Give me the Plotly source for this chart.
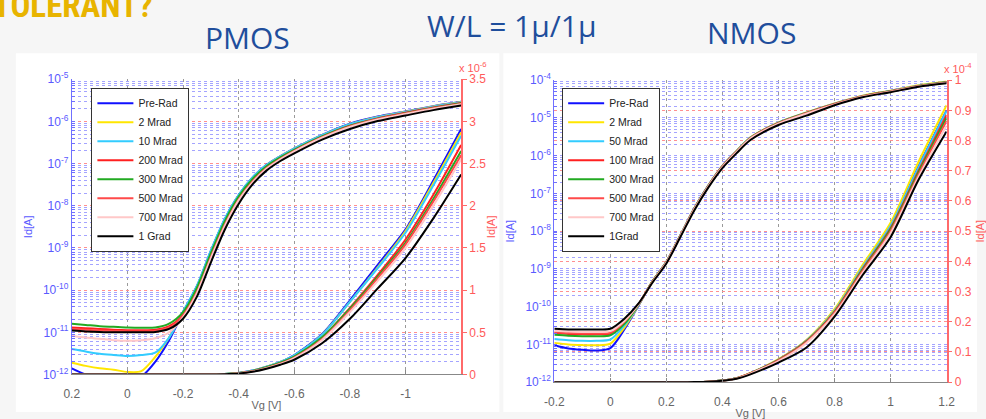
import plotly.graph_objects as go

# ---------------- DATA ----------------
series_names_p = ["Pre-Rad", "2 Mrad", "10 Mrad", "200 Mrad", "300 Mrad", "500 Mrad", "700 Mrad", "1 Grad"]
series_names_n = ["Pre-Rad", "2 Mrad", "50 Mrad", "100 Mrad", "300 Mrad", "500 Mrad", "700 Mrad", "1Grad"]
series_colors = ["#1010ff", "#ffe600", "#33ccff", "#ff2020", "#22aa22", "#ff4a4a", "#ffc8c8", "#000000"]

pmos_vg = [0.2, 0.15, 0.1, 0.05, 0.0, -0.05, -0.1, -0.15, -0.2, -0.25, -0.3, -0.35, -0.4,
           -0.45, -0.5, -0.55, -0.6, -0.7, -0.8, -0.9, -1.0, -1.1, -1.2]
pmos_prerad = [1.4e-12, 1.0e-12, 8.5e-13, 8e-13, 8e-13, 9e-13, 2.0e-12, 6.5e-12, 3.0e-11, 1.25e-10, 8.5e-10,
               4.8e-9, 1.8e-8, 4.7e-8, 9.3e-8, 1.5e-7, 2.3e-7, 4.8e-7, 8.8e-7, 1.3e-6, 1.72e-6, 2.3e-6, 2.91e-6]
pmos_2mrad = [1.9e-12, 1.6e-12, 1.4e-12, 1.3e-12, 1.15e-12, 1.2e-12, 2.6e-12, 7.5e-12, 2.9e-11, 1.2e-10, 8.2e-10,
              4.6e-9, 1.75e-8, 4.6e-8, 9.1e-8, 1.48e-7, 2.25e-7, 4.7e-7, 8.6e-7, 1.27e-6, 1.7e-6, 2.27e-6, 2.87e-6]
pmos_10mrad = [4e-12, 3.5e-12, 3.1e-12, 2.9e-12, 2.75e-12, 2.9e-12, 3.3e-12, 7.5e-12, 3.1e-11, 1.25e-10, 8.6e-10,
               4.9e-9, 1.8e-8, 4.7e-8, 9.2e-8, 1.49e-7, 2.27e-7, 4.7e-7, 8.6e-7, 1.26e-6, 1.68e-6, 2.24e-6, 2.83e-6]
pmos_200mrad = [1.3e-11, 1.25e-11, 1.2e-11, 1.15e-11, 1.12e-11, 1.12e-11, 1.15e-11, 1.4e-11, 2.6e-11, 1.0e-10, 6.5e-10,
                3.8e-9, 1.5e-8, 4.0e-8, 8.2e-8, 1.36e-7, 2.08e-7, 4.35e-7, 7.9e-7, 1.18e-6, 1.6e-6, 2.13e-6, 2.72e-6]
pmos_300mrad = [1.6e-11, 1.5e-11, 1.4e-11, 1.35e-11, 1.3e-11, 1.28e-11, 1.3e-11, 1.6e-11, 3.0e-11, 1.15e-10, 7.5e-10,
                4.3e-9, 1.65e-8, 4.3e-8, 8.6e-8, 1.4e-7, 2.12e-7, 4.4e-7, 7.8e-7, 1.16e-6, 1.56e-6, 2.08e-6, 2.65e-6]
pmos_500mrad = [1.2e-11, 1.15e-11, 1.1e-11, 1.08e-11, 1.05e-11, 1.05e-11, 1.08e-11, 1.3e-11, 2.5e-11, 9e-11, 6e-10,
                3.5e-9, 1.4e-8, 3.8e-8, 7.8e-8, 1.3e-7, 2.0e-7, 4.2e-7, 7.6e-7, 1.14e-6, 1.54e-6, 2.05e-6, 2.6e-6]
pmos_700mrad = [8.3e-12, 7.5e-12, 7e-12, 6.5e-12, 6.3e-12, 6.5e-12, 7.2e-12, 1.0e-11, 2.3e-11, 8.5e-11, 5.6e-10,
                3.3e-9, 1.35e-8, 3.6e-8, 7.5e-8, 1.26e-7, 1.95e-7, 4.1e-7, 7.4e-7, 1.11e-6, 1.5e-6, 2.0e-6, 2.55e-6]
pmos_1grad = [1.1e-11, 1.05e-11, 1.02e-11, 1.0e-11, 1.0e-11, 1.0e-11, 1.02e-11, 1.2e-11, 2.1e-11, 7e-11, 4.5e-10,
              2.7e-9, 1.1e-8, 3.2e-8, 6.8e-8, 1.15e-7, 1.75e-7, 3.7e-7, 6.6e-7, 1.02e-6, 1.38e-6, 1.85e-6, 2.37e-6]

nmos_vg = [-0.2, -0.15, -0.1, -0.05, 0.0, 0.05, 0.1, 0.15, 0.2, 0.25, 0.3, 0.35, 0.4, 0.45, 0.5,
           0.6, 0.7, 0.8, 0.9, 1.0, 1.1, 1.2]
nmos_prerad = [9.5e-12, 7.8e-12, 7.2e-12, 6.9e-12, 8e-12, 2.5e-11, 1.05e-10, 4.6e-10, 1.55e-9, 7.8e-9, 4.1e-8,
               1.65e-7, 5.4e-7, 1.32e-6, 3.0e-6, 7.5e-6, 1.38e-5, 2.38e-5, 3.82e-5, 5.2e-5, 7.15e-5, 9.0e-5]
nmos_2mrad = [1.1e-11, 1.0e-11, 9.6e-12, 9.5e-12, 1.05e-11, 2.8e-11, 1.07e-10, 4.6e-10, 1.55e-9, 7.8e-9, 4.1e-8,
              1.65e-7, 5.4e-7, 1.33e-6, 3.05e-6, 7.6e-6, 1.4e-5, 2.42e-5, 3.88e-5, 5.28e-5, 7.3e-5, 9.17e-5]
nmos_50mrad = [1.4e-11, 1.3e-11, 1.25e-11, 1.25e-11, 1.35e-11, 3.2e-11, 1.1e-10, 4.6e-10, 1.55e-9, 7.7e-9, 4.05e-8,
               1.63e-7, 5.3e-7, 1.3e-6, 3.0e-6, 7.5e-6, 1.38e-5, 2.37e-5, 3.8e-5, 5.18e-5, 7.12e-5, 8.98e-5]
nmos_100mrad = [2.0e-11, 1.9e-11, 1.85e-11, 1.85e-11, 1.95e-11, 3.8e-11, 1.15e-10, 4.6e-10, 1.52e-9, 7.6e-9, 4.0e-8,
                1.6e-7, 5.2e-7, 1.28e-6, 2.95e-6, 7.4e-6, 1.36e-5, 2.34e-5, 3.75e-5, 5.1e-5, 7.0e-5, 8.85e-5]
nmos_300mrad = [1.8e-11, 1.7e-11, 1.65e-11, 1.65e-11, 1.75e-11, 3.5e-11, 1.12e-10, 4.6e-10, 1.52e-9, 7.6e-9, 4.0e-8,
                1.6e-7, 5.2e-7, 1.28e-6, 2.93e-6, 7.3e-6, 1.35e-5, 2.32e-5, 3.72e-5, 5.06e-5, 6.95e-5, 8.75e-5]
nmos_500mrad = [2.1e-11, 2.0e-11, 1.95e-11, 1.95e-11, 2.05e-11, 4.0e-11, 1.15e-10, 4.5e-10, 1.5e-9, 7.5e-9, 3.9e-8,
                1.57e-7, 5.1e-7, 1.26e-6, 2.9e-6, 7.2e-6, 1.33e-5, 2.3e-5, 3.68e-5, 5.0e-5, 6.88e-5, 8.65e-5]
nmos_700mrad = [2.3e-11, 2.2e-11, 2.15e-11, 2.15e-11, 2.25e-11, 4.2e-11, 1.15e-10, 4.4e-10, 1.48e-9, 7.4e-9, 3.85e-8,
                1.55e-7, 5.0e-7, 1.24e-6, 2.85e-6, 7.0e-6, 1.3e-5, 2.25e-5, 3.62e-5, 4.93e-5, 6.8e-5, 8.5e-5]
nmos_1grad = [2.6e-11, 2.5e-11, 2.5e-11, 2.5e-11, 2.6e-11, 4.8e-11, 1.2e-10, 4.3e-10, 1.4e-9, 7.0e-9, 3.6e-8,
              1.45e-7, 4.7e-7, 1.15e-6, 2.6e-6, 6.5e-6, 1.15e-5, 2.17e-5, 3.54e-5, 4.8e-5, 6.7e-5, 8.3e-5]

pmos_series = [pmos_prerad, pmos_2mrad, pmos_10mrad, pmos_200mrad, pmos_300mrad, pmos_500mrad, pmos_700mrad, pmos_1grad]
nmos_series = [nmos_prerad, nmos_2mrad, nmos_50mrad, nmos_100mrad, nmos_300mrad, nmos_500mrad, nmos_700mrad, nmos_1grad]

pmos_xticks = [0.2, 0.0, -0.2, -0.4, -0.6, -0.8, -1.0]
pmos_xlabels = ["0.2", "0", "-0.2", "-0.4", "-0.6", "-0.8", "-1"]
nmos_xticks = [-0.2, 0.0, 0.2, 0.4, 0.6, 0.8, 1.0, 1.2]
nmos_xlabels = ["-0.2", "0", "0.2", "0.4", "0.6", "0.8", "1", "1.2"]
pmos_decades = list(range(-12, -4))   # 1e-12 .. 1e-5
nmos_decades = list(range(-12, -3))   # 1e-12 .. 1e-4
pmos_lin_ticks = [0, 0.5e-6, 1e-6, 1.5e-6, 2e-6, 2.5e-6, 3e-6, 3.5e-6]
pmos_lin_labels = ["0", "0.5", "1", "1.5", "2", "2.5", "3", "3.5"]
nmos_lin_ticks = [0, 1e-5, 2e-5, 3e-5, 4e-5, 5e-5, 6e-5, 7e-5, 8e-5, 9e-5, 1e-4]
nmos_lin_labels = ["0", "0.1", "0.2", "0.3", "0.4", "0.5", "0.6", "0.7", "0.8", "0.9", "1"]

# ---------------- LAYOUT HELPERS ----------------
W, H = 986, 419
def fx(p): return p / W
def fy(p): return 1 - p / H

BLUE_LBL = "#5a5aff"
RED_LBL = "#ff5a5a"
GREY_LBL = "#666666"
FONT = "Liberation Sans, Arial, sans-serif"
SLIDE_FONT = "Open Sans, sans-serif"
SLIDE_BLUE = "#1f4e9c"

def log_ticks(decades):
    vals, txt = [], []
    for n in decades:
        for k in range(1, 10):
            if n == decades[-1] and k > 1:
                break
            vals.append(k * 10.0 ** n)
            txt.append("10<sup>%d</sup>" % n if k == 1 else "")
    return vals, txt

fig = go.Figure()

for i in range(8):
    fig.add_trace(go.Scatter(x=pmos_vg, y=pmos_series[i], xaxis="x", yaxis="y", mode="lines",
                             line=dict(color=series_colors[i], width=2, shape="spline", smoothing=0.8),
                             name=series_names_p[i], legend="legend", showlegend=True))
    fig.add_trace(go.Scatter(x=pmos_vg, y=pmos_series[i], xaxis="x", yaxis="y2", mode="lines",
                             line=dict(color=series_colors[i], width=2, shape="spline", smoothing=0.8),
                             name=series_names_p[i], showlegend=False))
for i in range(8):
    fig.add_trace(go.Scatter(x=nmos_vg, y=nmos_series[i], xaxis="x2", yaxis="y3", mode="lines",
                             line=dict(color=series_colors[i], width=2, shape="spline", smoothing=0.8),
                             name=series_names_n[i], legend="legend2", showlegend=True))
    fig.add_trace(go.Scatter(x=nmos_vg, y=nmos_series[i], xaxis="x2", yaxis="y4", mode="lines",
                             line=dict(color=series_colors[i], width=2, shape="spline", smoothing=0.8),
                             name=series_names_n[i], showlegend=False))

pv, pt = log_ticks(pmos_decades)
nv, nt = log_ticks(nmos_decades)

xcommon = dict(showgrid=True, gridcolor="#9a9a9a", griddash="dot", gridwidth=1, zeroline=False,
               showline=True, linecolor="#888888", linewidth=1, ticks="inside", ticklen=4, tickcolor="#888888",
               tickfont=dict(family=FONT, size=12, color=GREY_LBL), ticklabelstandoff=8, mirror=False)
ylog_common = dict(type="log", showgrid=True, gridcolor="#a4a4ff", griddash="dot", gridwidth=1, zeroline=False,
                   showline=True, linecolor="#7070ff", linewidth=1, ticks="inside", ticklen=3, tickcolor="#7070ff",
                   tickfont=dict(family=FONT, size=12, color=BLUE_LBL), tickmode="array")
ylin_common = dict(showgrid=True, gridcolor="#ff9090", griddash="dot", gridwidth=1, zeroline=False,
                   showline=True, linecolor="#ff6a6a", linewidth=1.5, ticks="outside", ticklen=4, tickcolor="#ff6a6a",
                   tickfont=dict(family=FONT, size=12, color=RED_LBL), tickmode="array", side="right")

legend_common = dict(xanchor="left", yanchor="top", bgcolor="white",
                     bordercolor="#333333", borderwidth=1, font=dict(family=FONT, size=10.5, color="#222222"),
                     tracegroupgap=0, itemwidth=36)

fig.update_layout(
    width=W, height=H, margin=dict(l=0, r=0, t=0, b=0),
    paper_bgcolor="#f6f6f6", plot_bgcolor="white",
    xaxis=dict(xcommon, domain=[fx(63), fx(460)], range=[0.2, -1.2], anchor="y",
               tickmode="array", tickvals=pmos_xticks, ticktext=pmos_xlabels,
               title=dict(text="Vg [V]", font=dict(family=FONT, size=11, color=GREY_LBL), standoff=1)),
    yaxis=dict(ylog_common, domain=[fy(380), fy(73)], range=[-12, -5], anchor="x",
               tickvals=pv, ticktext=pt,
               title=dict(text="Id[A]", font=dict(family=FONT, size=11, color=BLUE_LBL), standoff=8)),
    yaxis2=dict(ylin_common, overlaying="y", anchor="x", range=[0, 3.5e-6],
                tickvals=pmos_lin_ticks, ticktext=pmos_lin_labels,
                title=dict(text="Id[A]", font=dict(family=FONT, size=11, color=RED_LBL), standoff=2)),
    xaxis2=dict(xcommon, domain=[fx(555), fx(955)], range=[-0.2, 1.2], anchor="y3",
                tickmode="array", tickvals=nmos_xticks, ticktext=nmos_xlabels,
                title=dict(text="Vg [V]", font=dict(family=FONT, size=11, color=GREY_LBL), standoff=1)),
    yaxis3=dict(ylog_common, domain=[fy(388), fy(74)], range=[-12, -4], anchor="x2",
                tickvals=nv, ticktext=nt,
                title=dict(text="Id[A]", font=dict(family=FONT, size=11, color=BLUE_LBL), standoff=8)),
    yaxis4=dict(ylin_common, overlaying="y3", anchor="x2", range=[0, 1e-4],
                tickvals=nmos_lin_ticks, ticktext=nmos_lin_labels,
                title=dict(text="Id[A]", font=dict(family=FONT, size=11, color=RED_LBL), standoff=6)),
    legend=dict(legend_common, x=fx(83), y=fy(82)),
    legend2=dict(legend_common, x=fx(563), y=fy(82)),
    shapes=[
        dict(type="rect", xref="paper", yref="paper", x0=fx(6), x1=fx(499), y0=0, y1=fy(46),
             fillcolor="white", line=dict(width=0), layer="below"),
        dict(type="rect", xref="paper", yref="paper", x0=fx(503), x1=1, y0=0, y1=fy(46),
             fillcolor="white", line=dict(width=0), layer="below"),
    ],
    annotations=[
        dict(text="TOLERANT?", x=fx(-19), y=fy(19), xref="paper", yref="paper", xanchor="left", yanchor="bottom",
             showarrow=False, font=dict(family="Liberation Sans Narrow, Roboto Condensed, sans-serif",
                                        size=33, color="#e8b400", weight="bold")),
        dict(text="PMOS", x=fx(242), y=fy(30), xref="paper", yref="paper", xanchor="center", yanchor="middle",
             showarrow=False, font=dict(family=SLIDE_FONT, size=30, color=SLIDE_BLUE)),
        dict(text="W/L = 1µ/1µ", x=fx(512), y=fy(17), xref="paper", yref="paper", xanchor="center", yanchor="middle",
             showarrow=False, font=dict(family=SLIDE_FONT, size=30, color=SLIDE_BLUE)),
        dict(text="NMOS", x=fx(756), y=fy(24), xref="paper", yref="paper", xanchor="center", yanchor="middle",
             showarrow=False, font=dict(family=SLIDE_FONT, size=30, color=SLIDE_BLUE)),
        dict(text="x 10<sup>-6</sup>", x=fx(456), y=fy(70), xref="paper", yref="paper", xanchor="left", yanchor="bottom",
             showarrow=False, font=dict(family=FONT, size=11, color=RED_LBL)),
        dict(text="x 10<sup>-4</sup>", x=fx(950), y=fy(71), xref="paper", yref="paper", xanchor="left", yanchor="bottom",
             showarrow=False, font=dict(family=FONT, size=11, color=RED_LBL)),
    ],
)

fig.write_html("out.html")
